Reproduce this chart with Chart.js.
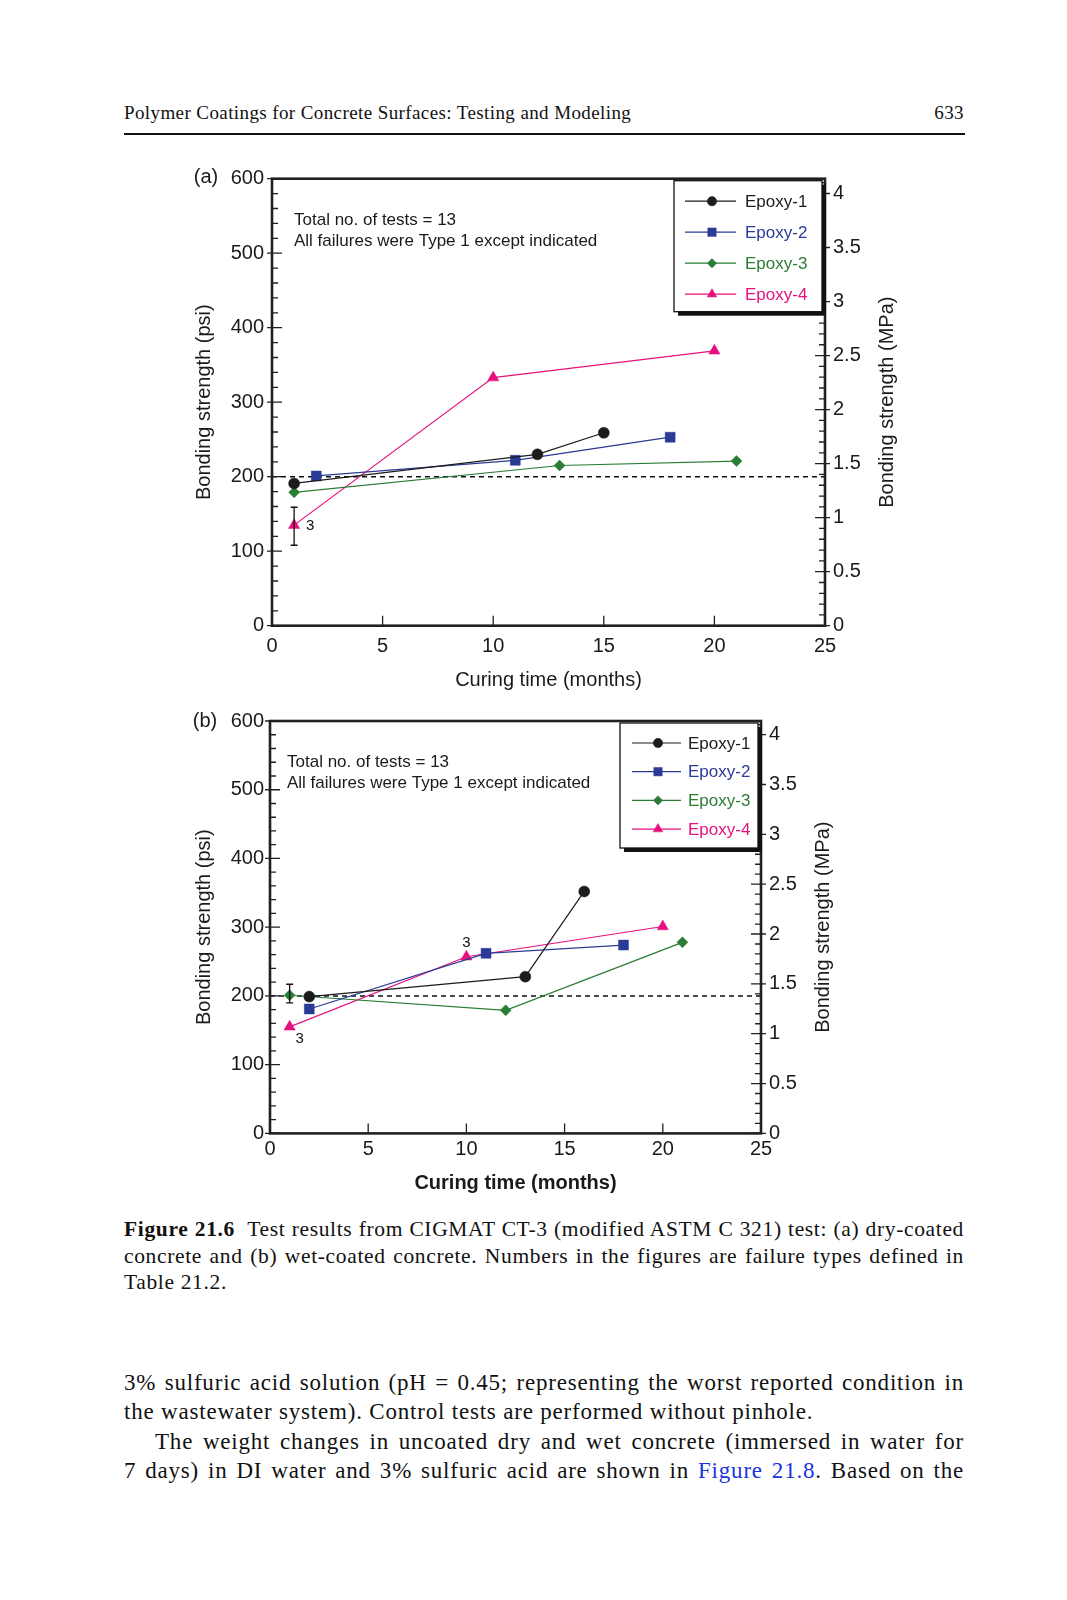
<!DOCTYPE html>
<html>
<head>
<meta charset="utf-8">
<script src="https://cdn.jsdelivr.net/npm/chart.js@4.4.1/dist/chart.umd.min.js"></script>
<style>
  body { margin: 0; background: #fff; }
  #page { position: relative; width: 1067px; height: 1600px; background: #fff; overflow: hidden; }
  .serif { font-family: "Liberation Serif", "Times New Roman", serif; color: #111; position: absolute; }
  .hdr { top: 102px; left: 124px; font-size: 19px; line-height: 22px; letter-spacing: 0.4px; }
  .pno { top: 102px; right: 103px; font-size: 19px; line-height: 22px; letter-spacing: 0.4px; }
  .rule { position: absolute; top: 133px; left: 124px; width: 841px; height: 2px; background: #111; }
  .block { left: 124px; width: 840px; }
  .block div { text-align: justify; text-align-last: justify; white-space: nowrap; }
  .block div.last { text-align-last: left; }
  .block div.indent { text-indent: 31px; }
  .cap { top: 1216px; font-size: 21.5px; line-height: 26.5px; letter-spacing: 0.65px; }
  .body { top: 1368px; font-size: 23px; line-height: 29.3px; letter-spacing: 0.8px; }
  .link { color: #1a33e0; }
  canvas { position: absolute; }
</style>
</head>
<body>
<div id="page">
  <div class="serif hdr">Polymer Coatings for Concrete Surfaces: Testing and Modeling</div>
  <div class="serif pno">633</div>
  <div class="rule"></div>

  <canvas id="chartA" width="740" height="560" style="left:180px; top:150px;"></canvas>
  <canvas id="chartB" width="700" height="510" style="left:180px; top:693px;"></canvas>

  <div class="serif block cap">
    <div><b>Figure 21.6</b>&nbsp; Test results from CIGMAT CT-3 (modified ASTM C 321) test: (a) dry-coated</div>
    <div>concrete and (b) wet-coated concrete. Numbers in the figures are failure types defined in</div>
    <div class="last">Table 21.2.</div>
  </div>

  <div class="serif block body">
    <div>3% sulfuric acid solution (pH = 0.45; representing the worst reported condition in</div>
    <div class="last">the wastewater system). Control tests are performed without pinhole.</div>
    <div class="indent">The weight changes in uncoated dry and wet concrete (immersed in water for</div>
    <div>7 days) in DI water and 3% sulfuric acid are shown in <span class="link">Figure 21.8</span>. Based on the</div>
  </div>
</div>

<script>
// ---- data (psi vs months) ----
const seriesNames = ['Epoxy-1', 'Epoxy-2', 'Epoxy-3', 'Epoxy-4'];

// (a) dry-coated
const monthsA1 = [1, 12, 15];
const psiA1 = [191, 230, 259];
const monthsA2 = [2, 11, 18];
const psiA2 = [201, 222, 253];
const monthsA3 = [1, 13, 21];
const psiA3 = [179, 215, 221];
const monthsA4 = [1, 10, 20];
const psiA4 = [135, 333, 369];

// (b) wet-coated
const monthsB1 = [2, 13, 16];
const psiB1 = [199, 228, 352];
const monthsB2 = [2, 11, 18];
const psiB2 = [181, 262, 274];
const monthsB3 = [1, 12, 21];
const psiB3 = [201, 179, 278];
const monthsB4 = [1, 10, 20];
const psiB4 = [155, 257, 301];

// reference level (dashed) and error bars
const refMonths = [0, 25];
const refPsi = [200, 200];
const errA = { month: 1, low: 108, high: 159 };
const errB = { month: 1, low: 190, high: 217 };

// failure-type labels: [series index, point index, text]
const failA = [[3, 0, '3']];
const failB = [[3, 0, '3'], [3, 1, '3']];

const PSI_PER_MPA = 145.038;
const psiMax = 600;

const colors = ['#1c1c1c', '#2b3a96', '#2a7d35', '#e6117f'];
const pointStyles = ['circle', 'rect', 'rectRot', 'triangle'];
const pointSizes = [5.5, 7, 5.5, 6.5];
const frameColor = '#231f20';
const FONT = '"Liberation Sans", Arial, Helvetica, sans-serif';

function toPoints(xs, ys) {
    return xs.map((x, i) => ({ x: x, y: ys[i] }));
}

function seriesDatasets(pairs) {
    const sets = pairs.map(([xs, ys], i) => ({
        label: seriesNames[i],
        data: toPoints(xs, ys),
        showLine: true,
        borderColor: colors[i],
        backgroundColor: colors[i],
        borderWidth: 1.2,
        pointStyle: pointStyles[i],
        pointRadius: pointSizes[i],
        pointBorderWidth: 0.5,
        pointBorderColor: colors[i],
        pointBackgroundColor: colors[i]
    }));
    sets.push({
        label: 'ref',
        data: toPoints(refMonths, refPsi),
        showLine: true,
        borderColor: '#111',
        borderWidth: 1.4,
        borderDash: [5, 4],
        pointRadius: 0,
        order: 10
    });
    return sets;
}

// frame, inward ticks, right title, notes, legend, error bars
const decorPlugin = {
    id: 'decor',
    afterDatasetsDraw(chart, args, o) {
        const { ctx, chartArea: a, scales: { x, y, y2 } } = chart;
        ctx.save();

        // error bar
        const ex = x.getPixelForValue(o.err.month);
        const eLo = y.getPixelForValue(o.err.low);
        const eHi = y.getPixelForValue(o.err.high);
        ctx.strokeStyle = '#111';
        ctx.lineWidth = 1.3;
        ctx.beginPath();
        ctx.moveTo(ex, eLo); ctx.lineTo(ex, eHi);
        ctx.moveTo(ex - 3.5, eLo); ctx.lineTo(ex + 3.5, eLo);
        ctx.moveTo(ex - 3.5, eHi); ctx.lineTo(ex + 3.5, eHi);
        ctx.stroke();

        // failure type labels
        ctx.fillStyle = '#111';
        ctx.font = o.failFont + 'px ' + FONT;
        ctx.textAlign = 'center';
        ctx.textBaseline = 'middle';
        o.fail.forEach(([s, p, txt], k) => {
            const pt = chart.data.datasets[s].data[p];
            const off = o.failOffsets[k];
            ctx.fillText(txt, x.getPixelForValue(pt.x) + off[0], y.getPixelForValue(pt.y) + off[1]);
        });

        // frame
        ctx.strokeStyle = frameColor;
        ctx.lineWidth = 2.6;
        ctx.strokeRect(a.left, a.top, a.right - a.left, a.bottom - a.top);

        // inward ticks
        ctx.lineWidth = 1.3;
        ctx.beginPath();
        x.ticks.forEach(t => {
            const px = x.getPixelForValue(t.value);
            ctx.moveTo(px, a.bottom); ctx.lineTo(px, a.bottom - 10);
        });
        for (let k = 0; k * 20 <= psiMax; k++) {
            const py = y.getPixelForValue(k * 20);
            const major = k % 5 === 0;
            ctx.moveTo(a.left - (major ? 5 : 0), py); ctx.lineTo(a.left + (major ? 10 : 6), py);
        }
        for (let k = 0; k * 0.1 <= y2.max + 1e-9; k++) {
            const py = y2.getPixelForValue(k * 0.1);
            const major = k % 5 === 0;
            ctx.moveTo(a.right + (major ? 5 : 0), py); ctx.lineTo(a.right - (major ? 10 : 6), py);
        }
        ctx.stroke();

        // right axis title, reading upward
        ctx.save();
        ctx.translate(a.right + o.rightTitleOffset, (a.top + a.bottom) / 2);
        ctx.rotate(-Math.PI / 2);
        ctx.font = '20px ' + FONT;
        ctx.fillStyle = '#1a1a1a';
        ctx.textAlign = 'center';
        ctx.textBaseline = 'middle';
        ctx.fillText('Bonding strength (MPa)', 0, 0);
        ctx.restore();

        // panel letter and notes
        ctx.font = '20px ' + FONT;
        ctx.fillStyle = '#1a1a1a';
        ctx.textAlign = 'center';
        ctx.textBaseline = 'middle';
        ctx.fillText(o.panel, a.left + o.panelPos[0], a.top + o.panelPos[1]);
        ctx.font = '17px ' + FONT;
        ctx.textAlign = 'left';
        ctx.fillText('Total no. of tests = 13', a.left + o.notePos[0], a.top + o.notePos[1]);
        ctx.fillText('All failures were Type 1 except indicated', a.left + o.notePos[0], a.top + o.notePos[1] + 21);

        // legend box
        const L = o.legend;
        const bx = a.right - L.w - 3, by = a.top + 2;
        ctx.fillStyle = '#111';
        ctx.fillRect(bx + 4, by + 4, L.w, L.h);
        ctx.fillStyle = '#fff';
        ctx.fillRect(bx, by, L.w, L.h);
        ctx.strokeStyle = '#111';
        ctx.lineWidth = 1.3;
        ctx.strokeRect(bx, by, L.w, L.h);
        ctx.font = '17px ' + FONT;
        ctx.textBaseline = 'middle';
        seriesNames.forEach((name, i) => {
            const ly = by + L.first + i * L.step;
            ctx.strokeStyle = colors[i];
            ctx.lineWidth = 1.2;
            ctx.beginPath();
            ctx.moveTo(bx + L.line0, ly); ctx.lineTo(bx + L.line1, ly);
            ctx.stroke();
            ctx.fillStyle = colors[i];
            ctx.strokeStyle = colors[i];
            ctx.lineWidth = 0.5;
            Chart.helpers.drawPoint(ctx, { pointStyle: pointStyles[i], radius: pointSizes[i] * 0.85, rotation: 0, borderWidth: 0.5 }, bx + L.mark, ly);
            ctx.fillStyle = colors[i];
            ctx.fillText(name, bx + L.text, ly + 1);
        });

        ctx.restore();
    }
};

function makeChart(id, pairs, cfg) {
    return new Chart(document.getElementById(id), {
        type: 'scatter',
        data: { datasets: seriesDatasets(pairs) },
        plugins: [decorPlugin],
        options: {
            responsive: false,
            animation: false,
            events: [],
            layout: { padding: { top: cfg.padTop, right: 0, bottom: 0, left: 0 } },
            scales: {
                x: {
                    type: 'linear', min: 0, max: 25,
                    grid: { display: false, drawTicks: false },
                    border: { display: false },
                    ticks: { stepSize: 5, padding: cfg.xTickPad, color: '#1a1a1a', font: { family: FONT, size: 20 } },
                    title: {
                        display: true, text: 'Curing time (months)', color: '#1a1a1a',
                        font: { family: FONT, size: 20, weight: cfg.xTitleWeight },
                        padding: { top: 0, bottom: cfg.xTitlePad }
                    },
                    afterFit: s => { s.height = cfg.xHeight; }
                },
                y: {
                    position: 'left', min: 0, max: psiMax,
                    grid: { display: false, drawTicks: false },
                    border: { display: false },
                    ticks: { stepSize: 100, padding: cfg.yTickPad, color: '#1a1a1a', font: { family: FONT, size: 20 } },
                    title: {
                        display: true, text: 'Bonding strength (psi)', color: '#1a1a1a',
                        font: { family: FONT, size: 20 },
                        padding: { top: cfg.yTitlePad, bottom: 0 }
                    },
                    afterFit: s => { s.width = cfg.leftWidth; }
                },
                y2: {
                    position: 'right', min: 0, max: psiMax / PSI_PER_MPA,
                    grid: { display: false, drawTicks: false },
                    border: { display: false },
                    ticks: {
                        stepSize: 0.5, includeBounds: false, padding: cfg.y2TickPad, color: '#1a1a1a',
                        font: { family: FONT, size: 20 },
                        callback: v => String(v)
                    },
                    afterFit: s => { s.width = cfg.rightWidth; }
                }
            },
            plugins: {
                legend: { display: false },
                tooltip: { enabled: false },
                decor: cfg.decor
            }
        }
    });
}

makeChart('chartA',
    [[monthsA1, psiA1], [monthsA2, psiA2], [monthsA3, psiA3], [monthsA4, psiA4]],
    {
        padTop: 28.7, xHeight: 84.3, leftWidth: 92, rightWidth: 95,
        xTickPad: 9, xTitlePad: 18, xTitleWeight: 'normal', yTickPad: 8, yTitlePad: 12, y2TickPad: 8,
        decor: {
            panel: '(a)', panelPos: [-66, -1], notePos: [22, 41.5],
            err: errA, fail: failA, failOffsets: [[16, 1]], failFont: 15,
            rightTitleOffset: 62,
            legend: { w: 148, h: 131, first: 20.5, step: 31, line0: 11, line1: 62, mark: 38, text: 71 }
        }
    });

makeChart('chartB',
    [[monthsB1, psiB1], [monthsB2, psiB2], [monthsB3, psiB3], [monthsB4, psiB4]],
    {
        padTop: 28, xHeight: 69.6, leftWidth: 90, rightWidth: 119,
        xTickPad: 4, xTitlePad: 8, xTitleWeight: 'bold', yTickPad: 6, yTitlePad: 12, y2TickPad: 8,
        decor: {
            panel: '(b)', panelPos: [-65, 0], notePos: [17, 41],
            err: errB, fail: failB, failOffsets: [[10, 12], [0, -14]], failFont: 15,
            rightTitleOffset: 62,
            legend: { w: 138, h: 125, first: 20, step: 28.7, line0: 12, line1: 61, mark: 38, text: 68 }
        }
    });
</script>
</body>
</html>
